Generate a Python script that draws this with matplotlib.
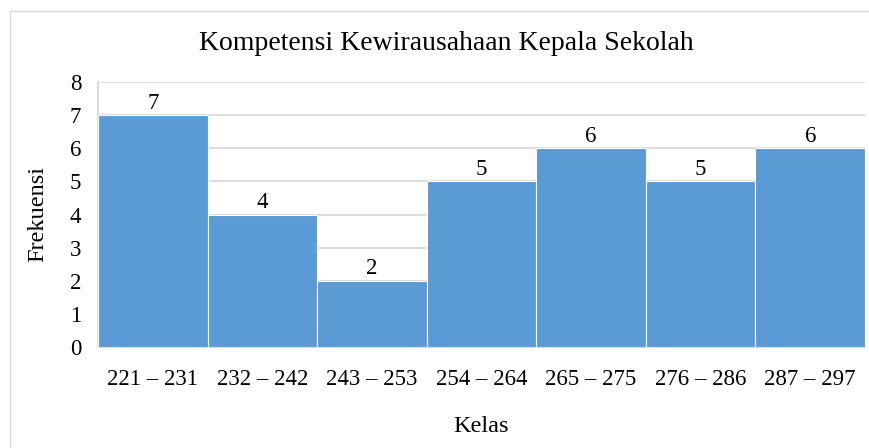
import matplotlib
matplotlib.use("Agg")
import matplotlib.pyplot as plt
from matplotlib.lines import Line2D

categories = ["221 – 231", "232 – 242", "243 – 253", "254 – 264", "265 – 275", "276 – 286", "287 – 297"]
values = [7, 4, 2, 5, 6, 5, 6]
y_ticks = [0, 1, 2, 3, 4, 5, 6, 7, 8]

plt.rcParams['font.family'] = ['Liberation Serif', 'DejaVu Serif']

W, H = 870, 448
fig = plt.figure(figsize=(W / 100, H / 100), dpi=100)
fig.patch.set_facecolor('white')

# outer frame (chart area border, cropped at right/bottom)
fig.add_artist(Line2D([10 / W, 10 / W], [0, 1 - 11 / H], transform=fig.transFigure, color='#d9d9d9', lw=1))
fig.add_artist(Line2D([10 / W, 1], [1 - 11 / H, 1 - 11 / H], transform=fig.transFigure, color='#d9d9d9', lw=1))

ax = fig.add_axes([98 / W, 1 - 347 / H, (865 - 98) / W, (347 - 82) / H])
x = list(range(len(categories)))
bars = ax.bar(x, values, width=1.0, color='#5B9BD5', edgecolor='white', linewidth=0.8, zorder=3)
ax.set_xlim(-0.5, len(categories) - 0.5)
ax.set_ylim(0, 8)
ax.set_yticks(y_ticks)
ax.set_xticks(x)
ax.set_xticklabels(categories)
ax.tick_params(axis='both', length=0, labelsize=16.5)
ax.tick_params(axis='y', pad=12)
ax.tick_params(axis='x', pad=16)
ax.grid(axis='y', color='#d9d9d9', linewidth=1.3, zorder=0)
for s in ['top', 'right']:
    ax.spines[s].set_visible(False)
ax.spines['left'].set_color('#d9d9d9')
ax.spines['bottom'].set_color('#d9d9d9')
ax.spines['left'].set_linewidth(1.3)
ax.spines['bottom'].set_linewidth(1.3)

for xi, v in zip(x, values):
    ax.annotate(str(v), (xi, v), xytext=(0, 1), textcoords='offset points',
                ha='center', va='bottom', fontsize=16.5)

ax.set_ylabel('Frekuensi', fontsize=17.5)
ax.yaxis.set_label_coords(-(98 - 48) / (865 - 98), 0.5)
ax.set_xlabel('Kelas', fontsize=17.5)
ax.xaxis.set_label_coords(0.5, -(416 - 347) / (347 - 82))

fig.text(446 / W, 1 - 44 / H, 'Kompetensi Kewirausahaan Kepala Sekolah', ha='center', va='center', fontsize=20)

fig.savefig('out.png', dpi=100)
